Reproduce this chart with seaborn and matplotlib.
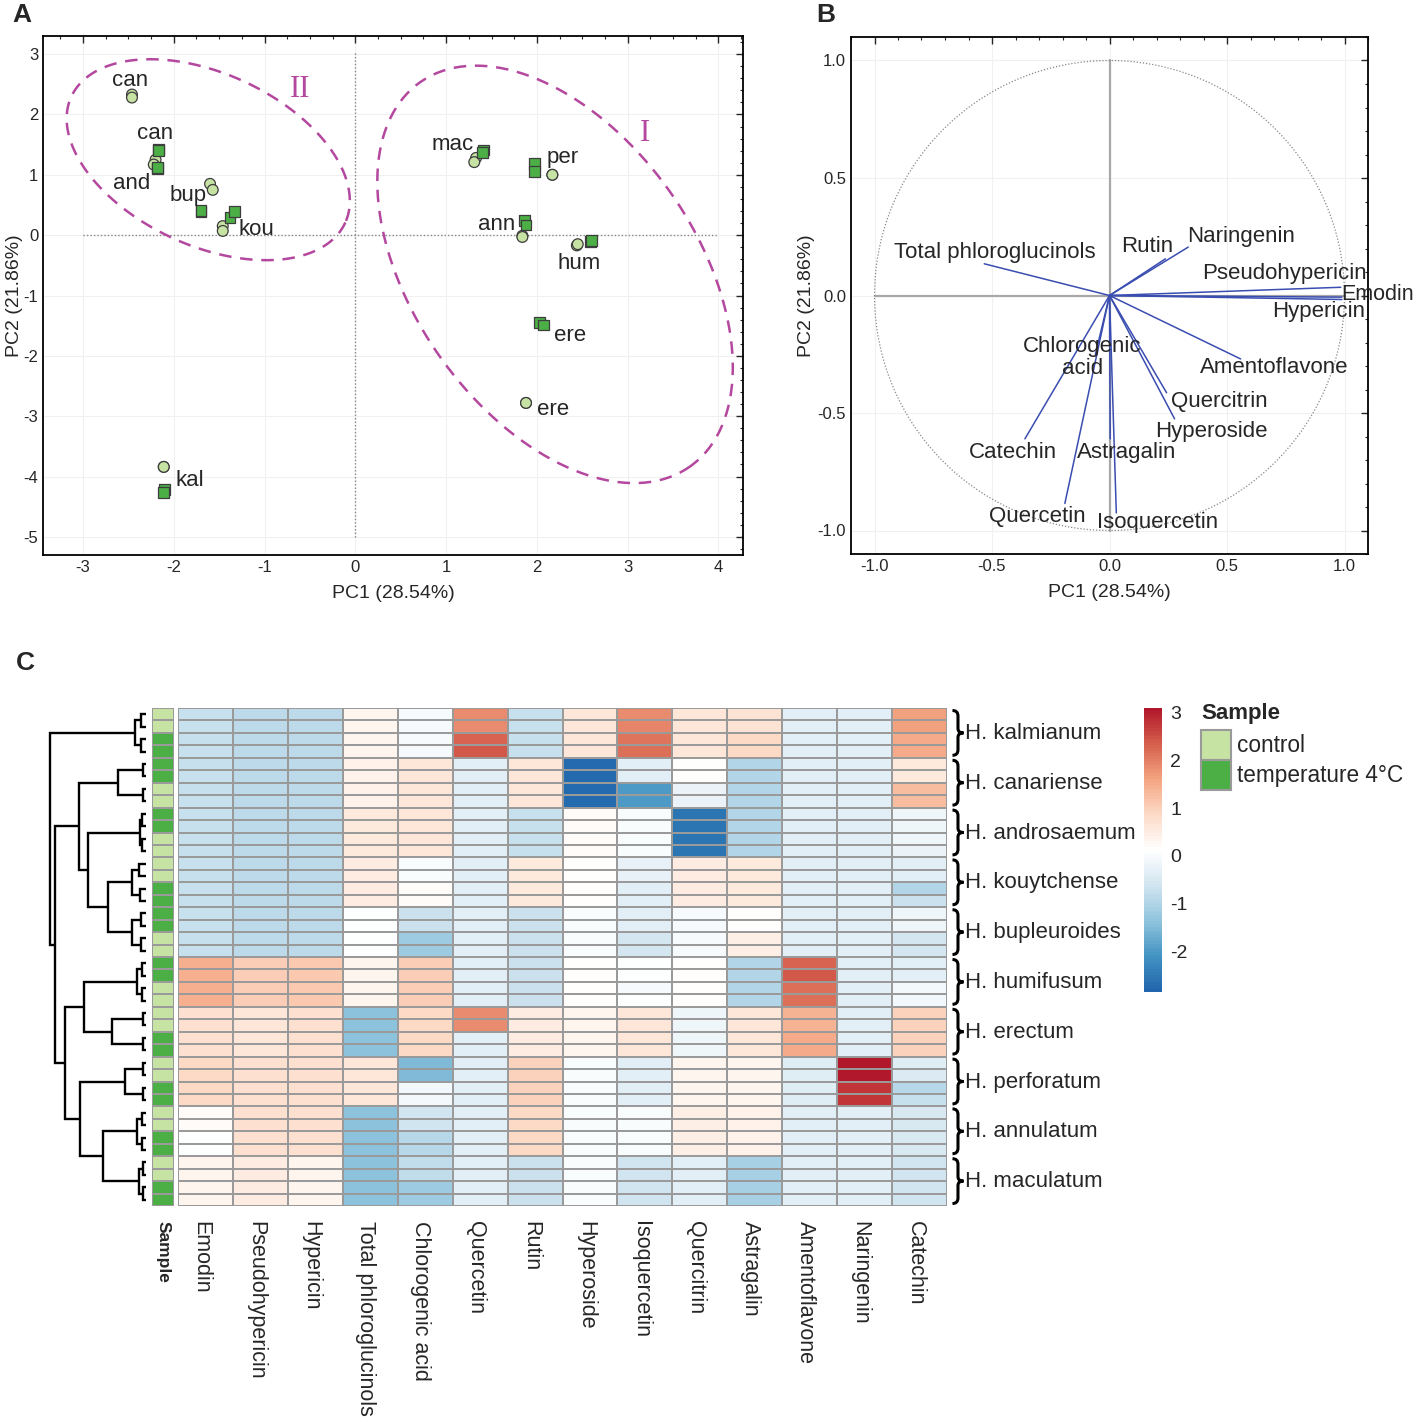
import numpy as np
import pandas as pd
import matplotlib
matplotlib.use("Agg")
import matplotlib.pyplot as plt
import matplotlib.ticker as mticker
import seaborn as sns
from matplotlib.colors import LinearSegmentedColormap, ListedColormap, Normalize
from matplotlib.patches import Rectangle, PathPatch
from matplotlib.path import Path
from matplotlib.cm import ScalarMappable

sns.set_style("white")
plt.rcParams['font.family'] = ['Liberation Sans', 'DejaVu Sans']
plt.rcParams['axes.unicode_minus'] = False

# ---------------- data: panel A (PCA scores) ----------------
score_group = ["control"] * 20 + ["temperature 4°C"] * 20
score_pc1 = [-2.46, -2.46, -2.20, -2.22, -1.60, -1.57, -1.46, -1.46, 1.33, 1.31,
             2.17, 2.17, 1.84, 1.84, 2.44, 2.45, 1.88, 1.88, -2.11, -2.11,
             -2.17, -2.17, -2.18, -2.18, -1.70, -1.70, -1.38, -1.33, 1.41, 1.40,
             1.97, 1.97, 1.86, 1.88, 2.59, 2.60, 2.03, 2.07, -2.10, -2.11]
score_pc2 = [2.33, 2.28, 1.25, 1.17, 0.85, 0.75, 0.15, 0.07, 1.28, 1.21,
             1.00, 1.00, -0.01, -0.03, -0.17, -0.15, -2.78, -2.78, -3.84, -3.84,
             1.42, 1.40, 1.10, 1.12, 0.39, 0.41, 0.29, 0.39, 1.41, 1.37,
             1.19, 1.06, 0.24, 0.17, -0.11, -0.09, -1.45, -1.49, -4.21, -4.26]
score_labels = ["can", "can", "and", "bup", "kou", "mac", "per", "ann", "hum", "ere", "ere", "kal"]
score_lab_x = [-2.48, -2.21, -2.46, -1.84, -1.09, 1.07, 2.28, 1.56, 2.46, 2.37, 2.18, -1.82]
score_lab_y = [2.57, 1.69, 0.86, 0.65, 0.10, 1.50, 1.28, 0.18, -0.47, -1.66, -2.89, -4.07]

# ---------------- data: panel B (loadings) ----------------
compounds = ["Emodin", "Pseudohypericin", "Hypericin", "Total phloroglucinols",
             "Chlorogenic acid", "Quercetin", "Rutin", "Hyperoside", "Isoquercetin",
             "Quercitrin", "Astragalin", "Amentoflavone", "Naringenin", "Catechin"]
load_pc1 = [0.989, 0.984, 0.989, -0.533, -0.06, -0.19, 0.238, 0.277, 0.029,
            0.243, 0.003, 0.558, 0.335, -0.36]
load_pc2 = [-0.007, 0.035, -0.017, 0.135, -0.25, -0.885, 0.156, -0.525, -0.925,
            -0.414, -0.61, -0.27, 0.206, -0.61]
load_labels = ["Emodin", "Pseudohypericin", "Hypericin", "Total phloroglucinols",
               "Chlorogenic\nacid", "Quercetin", "Rutin", "Hyperoside", "Isoquercetin",
               "Quercitrin", "Astragalin", "Amentoflavone", "Naringenin", "Catechin"]
load_lab_x = [1.14, 0.745, 0.89, -0.49, -0.115, -0.306, 0.16, 0.434, 0.204,
              0.468, 0.072, 0.70, 0.56, -0.41]
load_lab_y = [0.004, 0.094, -0.068, 0.183, -0.264, -0.94, 0.21, -0.579, -0.966,
              -0.45, -0.668, -0.306, 0.25, -0.668]

# ---------------- data: panel C (heatmap, z-scores) ----------------
species = ["H. kalmianum", "H. canariense", "H. androsaemum", "H. kouytchense",
           "H. bupleuroides", "H. humifusum", "H. erectum", "H. perforatum",
           "H. annulatum", "H. maculatum"]
kalmianum = [
    [-0.75, -0.85, -0.85, 0.3, 0.0, 1.85, -0.75, 0.6, 1.9, 0.6, 0.7, -0.35, -0.35, 1.65],
    [-0.75, -0.85, -0.85, 0.3, 0.0, 1.85, -0.75, 0.6, 1.95, 0.6, 0.7, -0.35, -0.35, 1.65],
    [-0.75, -0.85, -0.85, 0.3, 0.0, 2.3, -0.75, 0.6, 2.1, 0.6, 0.85, -0.35, -0.35, 1.5],
    [-0.75, -0.85, -0.85, 0.3, 0.0, 2.4, -0.75, 0.6, 2.15, 0.6, 0.85, -0.35, -0.35, 1.5]]
canariense = [
    [-0.75, -0.85, -0.85, 0.4, 0.6, -0.3, 0.6, -2.8, -0.35, 0.15, -1.0, -0.35, -0.35, 0.55],
    [-0.75, -0.85, -0.85, 0.4, 0.6, -0.3, 0.6, -2.8, -0.35, 0.15, -1.0, -0.35, -0.35, 0.55],
    [-0.75, -0.85, -0.85, 0.4, 0.6, -0.3, 0.6, -2.8, -2.0, -0.2, -1.0, -0.35, -0.35, 1.3],
    [-0.75, -0.85, -0.85, 0.4, 0.6, -0.3, 0.6, -2.8, -2.0, -0.2, -1.0, -0.35, -0.35, 1.3]]
androsaemum = [
    [-0.75, -0.85, -0.85, 0.55, 0.6, -0.3, -0.75, 0.2, 0.05, -2.6, -1.0, -0.35, -0.35, -0.15],
    [-0.75, -0.85, -0.85, 0.55, 0.6, -0.3, -0.75, 0.2, 0.05, -2.6, -1.0, -0.35, -0.35, -0.15],
    [-0.75, -0.85, -0.85, 0.55, 0.6, -0.3, -0.75, 0.2, 0.05, -2.6, -1.0, -0.35, -0.35, -0.15],
    [-0.75, -0.85, -0.85, 0.55, 0.6, -0.3, -0.75, 0.2, 0.05, -2.6, -1.0, -0.35, -0.35, -0.2]]
kouytchense = [
    [-0.75, -0.85, -0.85, 0.5, 0.05, -0.3, 0.55, 0.15, -0.25, 0.5, 0.55, -0.35, -0.35, -0.35],
    [-0.75, -0.85, -0.85, 0.5, 0.05, -0.3, 0.55, 0.15, -0.25, 0.5, 0.55, -0.35, -0.35, -0.35],
    [-0.75, -0.85, -0.85, 0.5, 0.2, -0.3, 0.55, 0.15, -0.3, 0.5, 0.55, -0.35, -0.35, -1.0],
    [-0.75, -0.85, -0.85, 0.5, 0.2, -0.3, 0.55, 0.15, -0.3, 0.5, 0.55, -0.35, -0.35, -0.7]]
bupleuroides = [
    [-0.75, -0.85, -0.85, 0.1, -0.7, -0.3, -0.7, 0.05, -0.3, 0.0, 0.15, -0.35, -0.35, -0.15],
    [-0.75, -0.85, -0.85, 0.1, -0.7, -0.3, -0.7, 0.05, -0.3, 0.0, 0.15, -0.35, -0.35, -0.15],
    [-0.75, -0.85, -0.85, 0.1, -1.2, -0.3, -0.7, 0.05, -0.55, 0.0, 0.45, -0.35, -0.35, -0.55],
    [-0.75, -0.85, -0.85, 0.1, -1.2, -0.3, -0.7, 0.05, -0.55, 0.0, 0.45, -0.35, -0.35, -0.55]]
humifusum = [
    [1.45, 1.05, 1.1, 0.3, 1.05, -0.3, -0.7, 0.15, 0.1, 0.15, -1.0, 2.3, -0.35, -0.3],
    [1.45, 1.05, 1.1, 0.3, 1.05, -0.3, -0.7, 0.15, 0.1, 0.15, -1.0, 2.4, -0.35, -0.3],
    [1.45, 1.05, 1.1, 0.3, 1.05, -0.3, -0.7, 0.15, 0.0, 0.15, -1.0, 2.2, -0.35, -0.1],
    [1.45, 1.05, 1.1, 0.3, 1.05, -0.3, -0.7, 0.15, 0.1, 0.15, -1.0, 2.2, -0.35, -0.1]]
erectum = [
    [0.75, 0.65, 0.75, -1.4, 0.85, 1.9, 0.5, 0.3, 0.65, -0.15, 0.6, 1.4, -0.35, 1.0],
    [0.75, 0.65, 0.75, -1.4, 0.85, 1.9, 0.5, 0.3, 0.65, -0.15, 0.6, 1.4, -0.35, 1.0],
    [0.75, 0.65, 0.75, -1.4, 0.85, -0.3, 0.5, 0.3, 0.65, -0.15, 0.6, 1.5, -0.35, 1.0],
    [0.75, 0.65, 0.75, -1.4, 0.85, -0.3, 0.5, 0.3, 0.65, -0.15, 0.6, 1.5, -0.35, 1.0]]
perforatum = [
    [0.85, 0.75, 0.75, 0.6, -1.5, -0.3, 1.0, 0.05, -0.3, 0.3, 0.35, -0.4, 3.05, -0.4],
    [0.85, 0.75, 0.75, 0.6, -1.5, -0.3, 1.0, 0.05, -0.3, 0.3, 0.35, -0.4, 3.05, -0.45],
    [0.85, 0.75, 0.75, 0.6, -0.1, -0.3, 1.0, 0.05, -0.3, 0.3, 0.35, -0.4, 2.8, -0.9],
    [0.85, 0.75, 0.75, 0.6, -0.1, -0.3, 1.0, 0.05, -0.3, 0.3, 0.35, -0.4, 2.8, -0.75]]
annulatum = [
    [0.2, 0.75, 0.75, -1.4, -0.65, -0.35, 0.85, 0.05, 0.05, 0.45, 0.4, -0.35, -0.35, -0.5],
    [0.2, 0.75, 0.75, -1.4, -0.65, -0.35, 0.85, 0.05, 0.05, 0.45, 0.4, -0.35, -0.35, -0.5],
    [0.1, 0.75, 0.75, -1.4, -0.9, -0.35, 0.85, 0.05, 0.05, 0.45, 0.4, -0.35, -0.35, -0.5],
    [0.1, 0.75, 0.75, -1.4, -0.9, -0.35, 0.85, 0.05, 0.05, 0.45, 0.4, -0.35, -0.35, -0.5]]
maculatum = [
    [0.3, 0.5, 0.3, -1.4, -0.8, -0.35, -0.7, 0.05, -0.6, -0.35, -1.1, -0.35, -0.35, -0.6],
    [0.3, 0.5, 0.3, -1.4, -0.8, -0.35, -0.7, 0.05, -0.6, -0.35, -1.1, -0.35, -0.35, -0.6],
    [0.3, 0.5, 0.3, -1.4, -1.2, -0.35, -0.7, 0.05, -0.6, -0.35, -1.1, -0.35, -0.35, -0.6],
    [0.3, 0.5, 0.3, -1.4, -1.2, -0.35, -0.7, 0.05, -0.6, -0.35, -1.1, -0.35, -0.35, -0.6]]
sample_type = [0, 0, 1, 1, 1, 1, 0, 0, 1, 1, 0, 0, 0, 0, 1, 1, 1, 1, 0, 0,
               1, 1, 0, 0, 0, 0, 1, 1, 0, 0, 1, 1, 0, 0, 1, 1, 0, 0, 1, 1]
sample_names = ["control", "temperature 4°C"]

# row dendrogram: (height, left, right), leaves are row indices
row_tree = (96,
            (11, (5, 0, 1), (5, 2, 3)),
            (91,
             (67,
              (28, (3, 4, 5), (3, 6, 7)),
              (58,
               (6, (4, 8, 9), (4, 10, 11)),
               (38,
                (14, (7, 12, 13), (6, 14, 15)),
                (14, (5, 16, 17), (5, 18, 19))))),
             (81,
              (62,
               (9, (4, 20, 21), (4, 22, 23)),
               (34, (3, 24, 25), (3, 26, 27))),
              (66,
               (21, (3, 28, 29), (3, 30, 31)),
               (43,
                (9, (4, 32, 33), (4, 34, 35)),
                (7, (3, 36, 37), (3, 38, 39)))))))

W, H = 1418, 1423
fig = plt.figure(figsize=(W / 100, H / 100), dpi=100)


def fx(px):
    return px / W


def fy(py):
    return 1 - py / H


def box(x0, y0, x1, y1):
    return [fx(x0), fy(y1), fx(x1) - fx(x0), fy(y0) - fy(y1)]


light_green = "#c6e3a4"
dark_green = "#4caf46"
magenta = "#b4489f"
line_blue = "#3a4db0"

# ================= Panel A =================
axA = fig.add_axes(box(43, 36, 743, 555))
scores = pd.DataFrame({"PC1": score_pc1, "PC2": score_pc2, "Sample": score_group})
axA.plot([-3, 4], [0, 0], ls=(0, (1, 1.5)), color="#888888", lw=1)
axA.plot([0, 0], [-5, 3.05], ls=(0, (1, 1.5)), color="#888888", lw=1)
sns.scatterplot(data=scores, x="PC1", y="PC2", hue="Sample", style="Sample",
                markers={"control": "o", "temperature 4°C": "s"},
                palette={"control": light_green, "temperature 4°C": dark_green},
                s=60, edgecolor="#3d3d3d", linewidth=0.9, legend=False, ax=axA, zorder=3)
for lab, x, y in zip(score_labels, score_lab_x, score_lab_y):
    axA.text(x, y, lab, fontsize=16, ha="center", va="center", zorder=4)

t = np.linspace(0, 2 * np.pi, 300)
for cx, cy, ux, uy, vx, vy in [(-1.62, 1.25, 1.51, -1.04, -0.39, -1.30),
                               (2.20, -0.65, 1.49, -3.18, -1.27, -1.36)]:
    axA.plot(cx + ux * np.cos(t) + vx * np.sin(t), cy + uy * np.cos(t) + vy * np.sin(t),
             color=magenta, lw=1.8, ls=(0, (5, 3.5)))
axA.text(3.19, 1.69, "I", fontsize=22, color=magenta, family="Liberation Serif",
         ha="center", va="center")
axA.text(-0.61, 2.41, "II", fontsize=22, color=magenta, family="Liberation Serif",
         ha="center", va="center")

axA.set_xlim(-3.44, 4.27)
axA.set_ylim(-5.3, 3.3)
axA.set_xticks(range(-3, 5))
axA.set_yticks(range(-5, 4))
axA.xaxis.set_minor_locator(mticker.MultipleLocator(0.25))
axA.yaxis.set_minor_locator(mticker.MultipleLocator(0.2))
axA.grid(True, which="major", color="#f0f0f0", lw=0.8)
axA.set_xlabel("PC1 (28.54%)", fontsize=14, labelpad=7)
axA.set_ylabel("PC2 (21.86%)", fontsize=14, labelpad=0)

# ================= Panel B =================
axB = fig.add_axes(box(851, 37, 1368, 554))
axB.plot([-1, 1], [0, 0], color="#a8a8a8", lw=1.6)
axB.plot([0, 0], [-1, 1], color="#a8a8a8", lw=1.6)
axB.plot(np.cos(t), np.sin(t), color="#888888", lw=0.9, ls=(0, (1, 1.5)))
for x, y in zip(load_pc1, load_pc2):
    axB.plot([0, x], [0, y], color=line_blue, lw=1.1)
for lab, x, y in zip(load_labels, load_lab_x, load_lab_y):
    axB.text(x, y, lab, fontsize=15.5 if lab == "Emodin" else 16, ha="center",
             va="center", clip_on=False, linespacing=1.05)
axB.set_xlim(-1.1, 1.1)
axB.set_ylim(-1.1, 1.1)
axB.set_xticks([-1, -0.5, 0, 0.5, 1])
axB.set_yticks([-1, -0.5, 0, 0.5, 1])
axB.xaxis.set_major_formatter(mticker.FormatStrFormatter("%.1f"))
axB.yaxis.set_major_formatter(mticker.FormatStrFormatter("%.1f"))
axB.xaxis.set_minor_locator(mticker.MultipleLocator(0.1))
axB.yaxis.set_minor_locator(mticker.MultipleLocator(0.1))
axB.grid(True, which="major", color="#f0f0f0", lw=0.8)
axB.set_xlabel("PC1 (28.54%)", fontsize=14, labelpad=7)
axB.set_ylabel("PC2 (21.86%)", fontsize=14, labelpad=2)

for ax in (axA, axB):
    for sp in ax.spines.values():
        sp.set_linewidth(1.3)
        sp.set_color("black")
    ax.tick_params(which="both", direction="in", top=True, right=True, labelsize=12)
    ax.tick_params(which="major", length=5, width=1)
    ax.tick_params(which="minor", length=2.5, width=0.8)
    ax.set_axisbelow(True)

# ================= Panel C =================
hm_rows = kalmianum + canariense + androsaemum + kouytchense + bupleuroides + \
    humifusum + erectum + perforatum + annulatum + maculatum
hm = pd.DataFrame(hm_rows, columns=compounds)
vmin, vmax = -2.86, 3.1
cmap = LinearSegmentedColormap.from_list(
    "rdbu", ["#2166ac", "#4393c3", "#92c5de", "#d1e5f0", "#ffffff",
             "#fddbc7", "#f4a582", "#d6604d", "#b2182b"], N=100)

axH = fig.add_axes(box(178, 708, 947, 1206))
sns.heatmap(hm, ax=axH, cmap=cmap, vmin=vmin, vmax=vmax, cbar=False,
            linewidths=1.3, linecolor="#9a9a9a", xticklabels=False, yticklabels=False)
axH.set_xlabel("")
axH.set_ylabel("")
for j, name in enumerate(compounds):
    axH.annotate(name, xy=(j + 0.42, 40), xytext=(0, -11), textcoords="offset points",
                 rotation=270, ha="center", va="top", fontsize=15.5, annotation_clip=False)

# braces + species labels
for k, name in enumerate(species):
    y0, y1 = 4 * k + 0.2, 4 * k + 3.8
    ym = (y0 + y1) / 2
    x0, w = 14.1, 0.2
    verts = [(x0, y0), (x0 + w * 0.5, y0), (x0 + w * 0.5, y0 + 0.45),
             (x0 + w * 0.5, ym - 0.35),
             (x0 + w * 0.5, ym), (x0 + w, ym),
             (x0 + w * 0.5, ym), (x0 + w * 0.5, ym + 0.35),
             (x0 + w * 0.5, y1 - 0.45),
             (x0 + w * 0.5, y1), (x0, y1)]
    codes = [Path.MOVETO, Path.CURVE3, Path.CURVE3, Path.LINETO,
             Path.CURVE3, Path.CURVE3, Path.CURVE3, Path.CURVE3, Path.LINETO,
             Path.CURVE3, Path.CURVE3]
    axH.add_patch(PathPatch(Path(verts, codes), fill=False, lw=2.2, color="black",
                            clip_on=False))
    axH.text(14.33, ym + 0.05, name, fontsize=16, ha="left", va="center", clip_on=False)

# sample annotation column
axS = fig.add_axes(box(152, 708, 174, 1206))
sns.heatmap(pd.DataFrame({"Sample": sample_type}), ax=axS,
            cmap=ListedColormap([light_green, dark_green]), vmin=0, vmax=1, cbar=False,
            linewidths=1.3, linecolor="#9a9a9a", xticklabels=False, yticklabels=False)
axS.annotate("Sample", xy=(0.5, 40), xytext=(0, -11), textcoords="offset points",
             rotation=270, ha="center", va="top", fontsize=12.5, fontweight="bold",
             annotation_clip=False)

# dendrogram
axD = fig.add_axes(box(40, 708, 146, 1206))


def draw_tree(ax, node):
    if isinstance(node, int):
        return node + 0.5, 0.0
    h, a, b = node
    ya, ha = draw_tree(ax, a)
    yb, hb = draw_tree(ax, b)
    ax.plot([ha, h, h, hb], [ya, ya, yb, yb], color="black", lw=1.7,
            solid_capstyle="butt", solid_joinstyle="miter")
    return (ya + yb) / 2, h


draw_tree(axD, row_tree)
axD.set_xlim(106, 0)
axD.set_ylim(40, 0)
axD.axis("off")

# colorbar
axC = fig.add_axes(box(1144, 708, 1162, 992))
cb = fig.colorbar(ScalarMappable(norm=Normalize(vmin, vmax), cmap=cmap), cax=axC,
                  ticks=[-2, -1, 0, 1, 2, 3])
cb.outline.set_visible(False)
axC.tick_params(length=0, labelsize=14, pad=6)

# legend
fig.text(fx(1201), fy(714), "Sample", fontsize=16, fontweight="bold", ha="left", va="center")
for i, (name, col) in enumerate(zip(sample_names, [light_green, dark_green])):
    fig.patches.append(Rectangle((fx(1201), fy(760 + 30 * i)), fx(30), fy(0) - fy(30),
                                 transform=fig.transFigure, facecolor=col,
                                 edgecolor="#9a9a9a", lw=1.5))
    fig.text(fx(1237), fy(745 + 30 * i), name, fontsize=16.3, ha="left", va="center")

# panel letters
for letter, (px, py) in zip("ABC", [(22, 15), (826, 15), (25, 663)]):
    fig.text(fx(px), fy(py), letter, fontsize=19, fontweight="bold", ha="center", va="center")

fig.savefig("out.png", dpi=100)
